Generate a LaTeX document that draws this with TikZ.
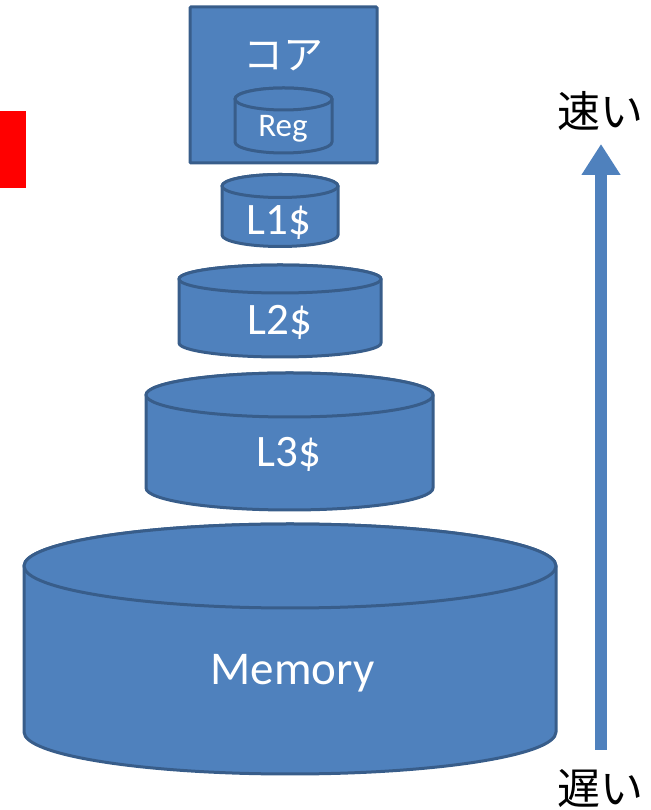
\documentclass[tikz,border=0pt]{standalone}
\usepackage{fontspec}
\setmainfont{Carlito}
\newfontfamily\jpfont{Noto Sans CJK JP}
\usetikzlibrary{arrows.meta}
\definecolor{cylfill}{HTML}{4F81BD}
\definecolor{cylline}{HTML}{385D8A}
\definecolor{marker}{HTML}{FF0000}
% \drum{name}{centre x}{half width}{top centre y}{bottom centre y}{lid radius}
\newcommand\drum[6]{%
  \filldraw[cylbody] (#2-#3,#4) -- (#2-#3,#5)
    arc[start angle=180,end angle=360,x radius=#3,y radius=#6]
    -- (#2+#3,#4)
    arc[start angle=0,end angle=180,x radius=#3,y radius=#6] -- cycle;
  \draw[cylbody] (#2,#4) ellipse[x radius=#3,y radius=#6];
  \coordinate (#1) at (#2,#5);
}
\begin{document}
\begin{tikzpicture}[x=1pt,y=1pt,
  cylbody/.style={fill=cylfill,draw=cylline,line width=3pt,line join=round},
  lbl/.style={text=white,inner sep=0pt,font=\fontsize{45}{48}\selectfont},
  speed/.style={text=black,inner sep=0pt,font=\jpfont\fontsize{43}{46}\selectfont}]
\useasboundingbox (0,0) rectangle (650,810);

% marker block at the left edge
\fill[marker] (0,622) rectangle (26,699);

% core with its register file
\filldraw[fill=cylfill,draw=cylline,line width=3pt,rounded corners=1pt]
  (190,647) rectangle (377,803);
\node[lbl,font=\jpfont\fontsize{40}{44}\selectfont] (core) at (283,754) {コア};
\drum{regbase}{283.5}{48.5}{711}{668}{11}
\node[lbl,anchor=base,font=\fontsize{33}{36}\selectfont] (reg) at (283,673) {Reg};

% cache levels and main memory
\drum{lonebase}{280}{58}{624}{575}{11.5}
\node[lbl,anchor=base] (lone) at (279,575) {L1\$};
\drum{ltwobase}{280}{101}{531}{467}{14}
\node[lbl,anchor=base] (ltwo) at (280,475) {L2\$};
\drum{lthreebase}{289.5}{143.5}{415}{322}{22}
\node[lbl,anchor=base] (lthree) at (289,343) {L3\$};
\drum{membase}{290}{266}{244}{78}{42}
\node[lbl,anchor=base,font=\fontsize{47}{50}\selectfont] (mem) at (292.5,125) {Memory};

% speed axis
\node[speed] (fast) at (600,699) {速い};
\node[speed] (slow) at (600,21) {遅い};
\coordinate (axisfoot) at (601,60);
\coordinate (axistip) at (601,666);
\draw[cylfill,line width=12pt,-{Triangle[width=37pt,length=31pt]}]
  (axisfoot) -- (axistip);
\end{tikzpicture}
\end{document}
